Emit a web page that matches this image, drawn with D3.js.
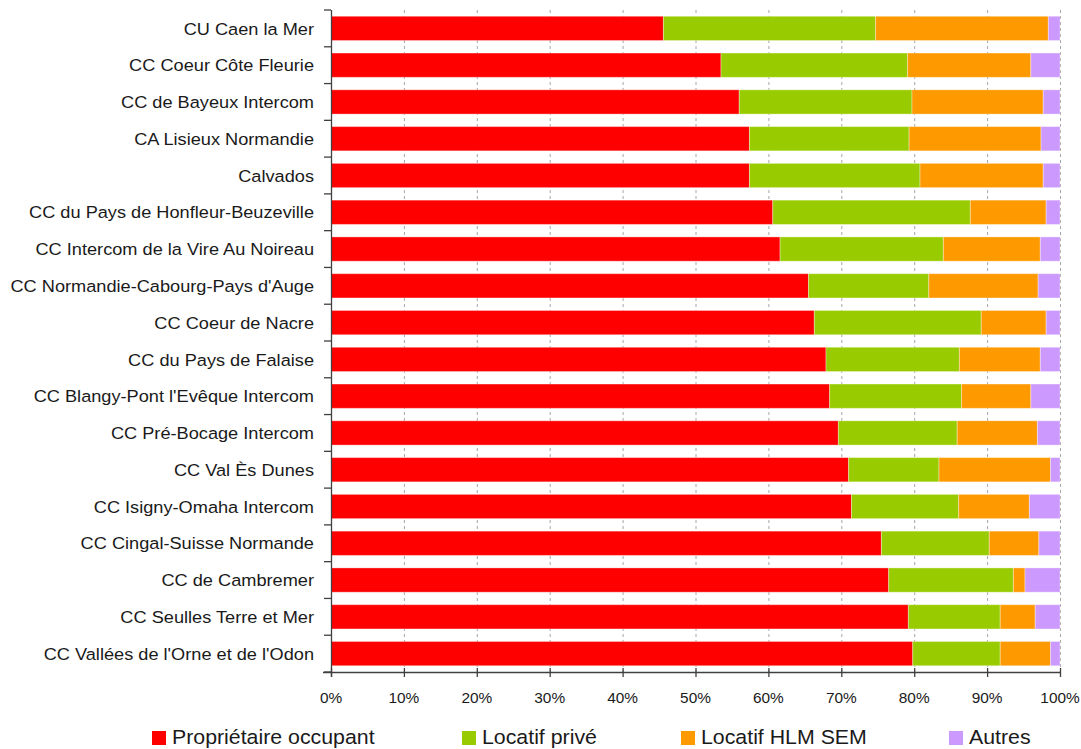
<!DOCTYPE html>
<html>
<head>
<meta charset="utf-8">
<script src="https://cdn.jsdelivr.net/npm/d3@7"></script>
<style>
  body { margin: 0; background: #fff; }
  svg { display: block; font-family: "Liberation Sans", Arial, sans-serif; }
</style>
</head>
<body>
<div id="chart"></div>
<script>
const categories = [
    "CU Caen la Mer",
    "CC Coeur Côte Fleurie",
    "CC de Bayeux Intercom",
    "CA Lisieux Normandie",
    "Calvados",
    "CC du Pays de Honfleur-Beuzeville",
    "CC Intercom de la Vire Au Noireau",
    "CC Normandie-Cabourg-Pays d'Auge",
    "CC Coeur de Nacre",
    "CC du Pays de Falaise",
    "CC Blangy-Pont l'Evêque Intercom",
    "CC Pré-Bocage Intercom",
    "CC Val Ès Dunes",
    "CC Isigny-Omaha Intercom",
    "CC Cingal-Suisse Normande",
    "CC de Cambremer",
    "CC Seulles Terre et Mer",
    "CC Vallées de l'Orne et de l'Odon"
]
const proprietaire = [45.6, 53.5, 56.0, 57.4, 57.4, 60.6, 61.6, 65.5, 66.3, 67.9, 68.4, 69.6, 71.0, 71.4, 75.5, 76.5, 79.2, 79.8]
const locatifPrive = [29.1, 25.6, 23.7, 21.9, 23.4, 27.1, 22.4, 16.5, 22.9, 18.3, 18.1, 16.3, 12.4, 14.7, 14.8, 17.1, 12.6, 12.0]
const locatifHlm   = [23.7, 16.9, 18.0, 18.1, 16.9, 10.4, 13.3, 15.0, 8.9, 11.1, 9.5, 11.0, 15.3, 9.7, 6.8, 1.6, 4.8, 6.9]
const autres       = [1.6, 4.0, 2.3, 2.6, 2.3, 1.9, 2.7, 3.0, 1.9, 2.7, 4.0, 3.1, 1.3, 4.2, 2.9, 4.8, 3.4, 1.3]

const seriesNames = ["Propriétaire occupant", "Locatif privé", "Locatif HLM SEM", "Autres"]
const seriesColors = ["#ff0000", "#99cc00", "#ff9900", "#cc99ff"]
const xTicks = [0, 10, 20, 30, 40, 50, 60, 70, 80, 90, 100]

const W = 1081, H = 749
const m = {t: 10, l: 331, r: 21, b: 77}   // plot area 331..1060 x 10..672
const iw = W - m.l - m.r, ih = H - m.t - m.b

const rows = categories.map((c, i) => ({
    cat: c,
    "Propriétaire occupant": proprietaire[i],
    "Locatif privé": locatifPrive[i],
    "Locatif HLM SEM": locatifHlm[i],
    "Autres": autres[i]
}))
const stacked = d3.stack().keys(seriesNames)(rows)

const x = d3.scaleLinear().domain([0, 100]).range([0, iw])
const y = d3.scaleBand().domain(categories).range([0, ih])
    .paddingInner(0.34).paddingOuter(0.17)
const color = d3.scaleOrdinal().domain(seriesNames).range(seriesColors)

const svg = d3.select("#chart").append("svg")
    .attr("width", W).attr("height", H)
const g = svg.append("g").attr("transform", "translate(" + m.l + "," + m.t + ")")

// dashed vertical grid, behind the bars
g.append("g").selectAll("line").data(xTicks.slice(1)).enter().append("line")
    .attr("x1", d => x(d) + 0.5).attr("x2", d => x(d) + 0.5)
    .attr("y1", 0).attr("y2", ih)
    .attr("stroke", "#a6a6a6").attr("stroke-width", 1)
    .attr("stroke-dasharray", "3,3")

// stacked bars
g.append("g").selectAll("g").data(stacked).enter().append("g")
    .attr("fill", d => color(d.key))
  .selectAll("rect").data(d => d).enter().append("rect")
    .attr("x", d => x(d[0]))
    .attr("y", d => y(d.data.cat))
    .attr("width", d => x(d[1]) - x(d[0]))
    .attr("height", y.bandwidth())
    .attr("stroke", "#fff").attr("stroke-opacity", 0.35).attr("stroke-width", 1)

// y axis: line + ticks between categories
const step = ih / categories.length
const bounds = d3.range(categories.length + 1).map(i => i * step)
g.append("line").attr("x1", 0.5).attr("x2", 0.5).attr("y1", 0).attr("y2", ih + 5)
    .attr("stroke", "#404040").attr("stroke-width", 1.3)
g.append("g").selectAll("line").data(bounds).enter().append("line")
    .attr("x1", -7).attr("x2", 0).attr("y1", d => d).attr("y2", d => d)
    .attr("stroke", "#404040").attr("stroke-width", 1.3)

// category labels (slightly wide rendering in the reference)
g.append("g").selectAll("text").data(categories).enter().append("text")
    .attr("transform", d => "translate(-17," + (y(d) + y.bandwidth() / 2) + ") scale(1.07,1)")
    .attr("text-anchor", "end").attr("dy", "0.36em")
    .attr("font-size", 17).attr("fill", "#1a1a1a")
    .text(d => d)

// x axis
g.append("line").attr("x1", -8).attr("x2", iw).attr("y1", ih + 0.5).attr("y2", ih + 0.5)
    .attr("stroke", "#404040").attr("stroke-width", 1.3)
g.append("g").selectAll("line").data(xTicks).enter().append("line")
    .attr("x1", d => x(d) + 0.5).attr("x2", d => x(d) + 0.5)
    .attr("y1", ih - 4).attr("y2", ih + 5)
    .attr("stroke", "#404040").attr("stroke-width", 1.3)
g.append("g").selectAll("text").data(xTicks).enter().append("text")
    .attr("transform", d => "translate(" + x(d) + "," + (ih + 31) + ") scale(1.1,1)")
    .attr("text-anchor", "middle")
    .attr("font-size", 14).attr("fill", "#1a1a1a")
    .text(d => d + "%")

// legend
const legendX = [152, 462, 681, 949]
const legend = svg.append("g").selectAll("g").data(seriesNames).enter().append("g")
    .attr("transform", (d, i) => "translate(" + legendX[i] + ",731)")
legend.append("rect").attr("width", 14).attr("height", 14).attr("fill", d => color(d))
legend.append("text").attr("transform", "translate(20,13) scale(1.04,1)")
    .attr("font-size", 20.5).attr("fill", "#1a1a1a")
    .text(d => d)
</script>
</body>
</html>
